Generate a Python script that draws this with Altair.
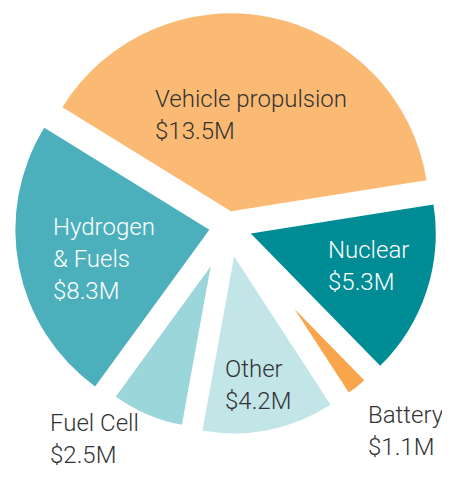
import math
import altair as alt
import pandas as pd

# ---- data ----
categories = ["Vehicle propulsion", "Nuclear", "Battery", "Other", "Fuel Cell", "Hydrogen\n& Fuels"]
values = [13.5, 5.3, 1.1, 4.2, 2.5, 8.3]
value_labels = ["$13.5M", "$5.3M", "$1.1M", "$4.2M", "$2.5M", "$8.3M"]

# ---- styles ----
colors = ["#FBBA73", "#008C95", "#F9A54B", "#C2E5E8", "#9BD6DA", "#4CB0BC"]
text_colors = ["#333333", "#FFFFFF", "#333333", "#333333", "#333333", "#FFFFFF"]
radii = [198, 185, 100, 177, 161, 194]
explode = [15, 24, 106, 31, 44, 19]
label_x = [147, 320, 360, 217, 42, 45]
label_y = [99, 250, 415, 369, 423, 227]

CX, CY = 220, 218
START = math.radians(-58.3)
TOTAL = sum(values)

df = pd.DataFrame({
    "cat": categories,
    "value": values,
    "idx": list(range(len(values))),
    "color": colors,
    "tcolor": text_colors,
    "r": radii,
    "d": explode,
    "lx": label_x,
    "ly": label_y,
    "label": [c + "\n" + v for c, v in zip(categories, value_labels)],
})

base = alt.Chart(df)

pie = base.transform_stack(
    stack="value", as_=["t0", "t1"], groupby=[], sort=[alt.SortField("idx", order="ascending")]
).transform_calculate(
    mid=f"{START} + 2*PI*((datum.t0 + datum.t1)/2)/{TOTAL}"
).transform_calculate(
    ox=f"{CX} + datum.d*sin(datum.mid)",
    oy=f"{CY} - datum.d*cos(datum.mid)",
).mark_arc(stroke=None).encode(
    theta=alt.Theta("t0:Q", stack=None,
                    scale=alt.Scale(domain=[0, TOTAL], range=[START, START + 2 * math.pi])),
    theta2="t1:Q",
    radius=alt.Radius("r:Q", scale=None),
    x=alt.X("ox:Q", scale=None),
    y=alt.Y("oy:Q", scale=None),
    color=alt.Color("color:N", scale=None),
)

labels = base.mark_text(
    align="left", baseline="alphabetic", font="Roboto", fontWeight=300,
    fontSize=24, lineBreak="\n", lineHeight=32,
).encode(
    x=alt.X("lx:Q", scale=None),
    y=alt.Y("ly:Q", scale=None),
    text="label:N",
    color=alt.Color("tcolor:N", scale=None),
)

chart = alt.layer(pie, labels).properties(
    width=434, height=463, padding=0, autosize="none"
).configure_view(stroke=None)

chart.save("out.html", embed_options={"renderer": "svg", "actions": False})
